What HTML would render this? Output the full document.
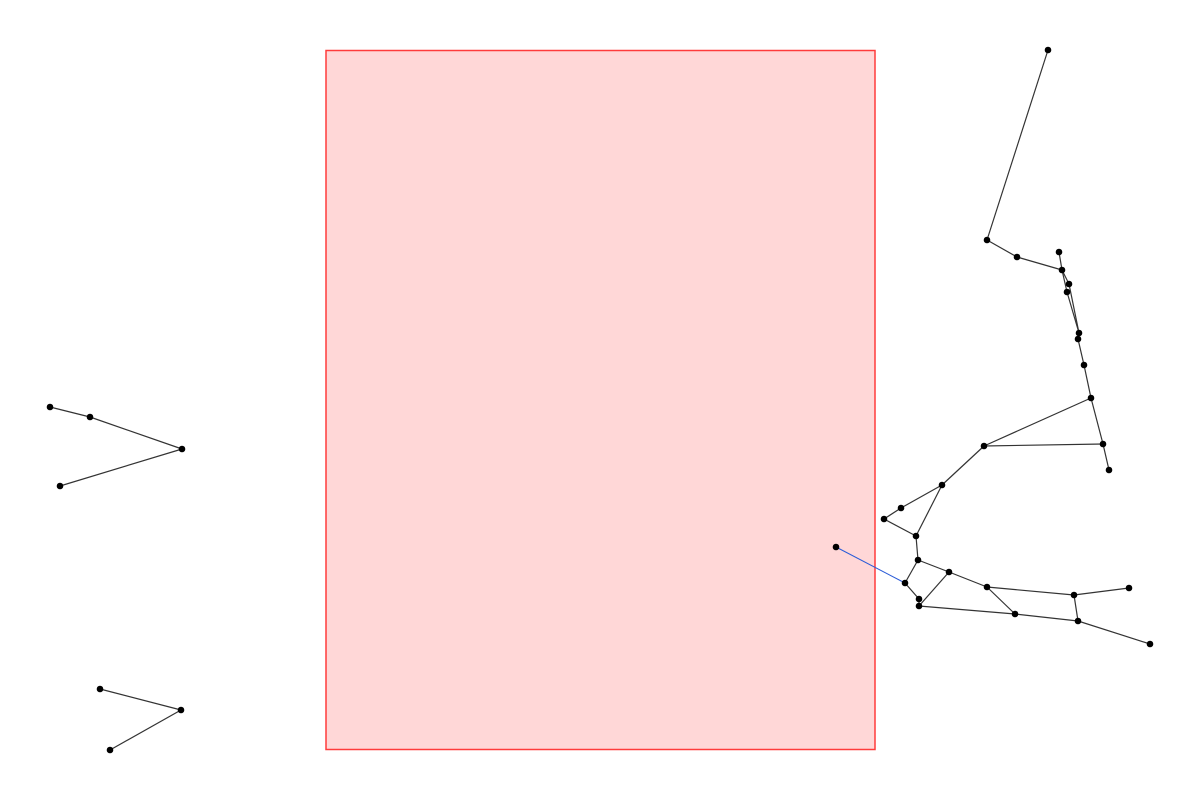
<!DOCTYPE html>
<html><head><meta charset="utf-8"><style>html,body{margin:0;background:#fff}svg{display:block}</style></head>
<body>
<svg id="g" width="1200" height="800">
<rect x="326" y="50.5" width="549" height="699" fill="#ffd7d7" stroke="#ff3b3b" stroke-width="1.5"/>
</svg>
<script>
const nodeIds=["A","B","C","D","E","F","G","H","I","J","K","L","M","N","O","P","Q","R","S","T","U","V","W","X","Y","Z","a","b","c","d","l1","l2","l3","l4","m1","m2","m3"];
const nodeX=[1048,987,1017,1059,1062,1069,1067,1079,1078,1084,1091,1103,1109,984,942,901,884,916,918,836,905,949,919,919,987,1015,1074,1129,1078,1150,50,90,182,60,100,181,110];
const nodeY=[50,240,257,252,270,284,292,333,339,365,398,444,470,446,485,508,519,536,560,547,583,572,599,606,587,614,595,588,621,644,407,417,449,486,689,710,750];
const edgeFrom=["A","B","C","D","E","E","F","G","H","I","J","K","L","K","N","N","O","P","Q","O","R","S","S","V","U","W","V","X","Y","Y","a","a","Z","c","T","l1","l2","l3","m1","m2"];
const edgeTo=  ["B","C","E","E","F","G","H","H","I","J","K","L","M","N","L","O","P","Q","R","R","S","U","V","Y","W","X","X","Z","Z","a","b","c","c","d","U","l2","l3","l4","m2","m3"];
const svg=document.getElementById('g');const NS='http://www.w3.org/2000/svg';
const idx=id=>nodeIds.indexOf(id);
edgeFrom.forEach((f,k)=>{const i=idx(f),j=idx(edgeTo[k]);const l=document.createElementNS(NS,'line');
l.setAttribute('x1',nodeX[i]);l.setAttribute('y1',nodeY[i]);l.setAttribute('x2',nodeX[j]);l.setAttribute('y2',nodeY[j]);
const blue=f==="T";l.setAttribute('stroke',blue?'#2a5bd7':'#333');l.setAttribute('stroke-width',blue?1:1.2);


svg.appendChild(l);});
nodeIds.forEach((n,i)=>{const c=document.createElementNS(NS,'circle');c.setAttribute('cx',nodeX[i]);c.setAttribute('cy',nodeY[i]);c.setAttribute('r',3.3);c.setAttribute('fill','#000');


svg.appendChild(c);});
</script>
</body></html>
